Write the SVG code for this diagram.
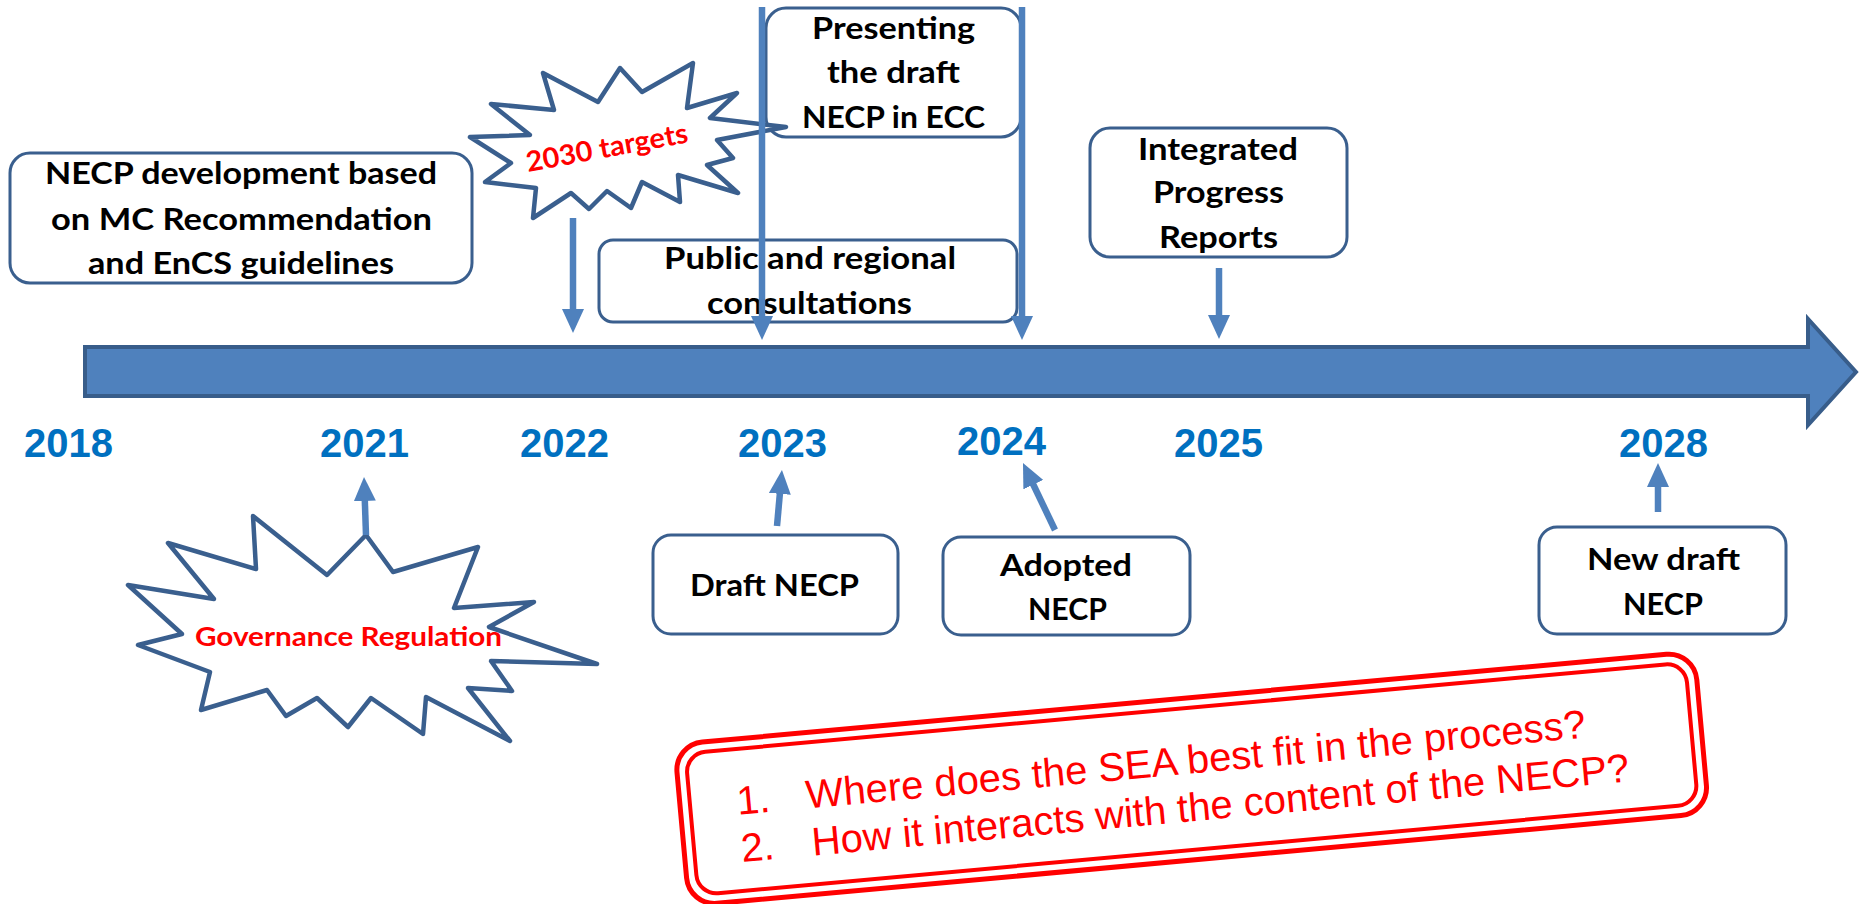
<svg xmlns="http://www.w3.org/2000/svg" width="1866" height="904" viewBox="0 0 1866 904">
<defs>
<style>
.box{fill:#fff;stroke:#3A5F8E;stroke-width:3}
.lbl{font-family:Lato,'Liberation Sans',sans-serif;font-weight:700;font-size:31px;fill:#000}
.redlbl{font-family:Lato,'Liberation Sans',sans-serif;font-weight:700;fill:#FF0000}
.yr{font-family:'Liberation Sans',Arial,sans-serif;font-weight:700;font-size:40px;fill:#0070C0}
.star{fill:#fff;stroke:#3A5F8E;stroke-width:4.5;stroke-linejoin:round}
.conn{stroke:#4F81BD;stroke-width:6.5;fill:none;marker-end:url(#ah)}
.q{font-family:'Liberation Sans',Arial,sans-serif;font-size:40px;fill:#FF0000}
.rb{fill:none;stroke:#FF0000}
</style>
<marker id="ah" markerUnits="userSpaceOnUse" viewBox="0 0 24 22" refX="4" refY="11" markerWidth="24" markerHeight="22" orient="auto">
<path d="M0,0 L24,11 L0,22 z" fill="#4F81BD"/>
</marker>
</defs>
<rect width="1866" height="904" fill="#fff"/>

<g id="timeline">
<path d="M85,347 L1808,347 L1808,319 L1856,372 L1808,425 L1808,396 L85,396 Z" fill="#4F81BD" stroke="#385D8A" stroke-width="4" stroke-linejoin="miter"/>
</g>

<g id="node-necp-dev">
<rect class="box" x="10" y="153" width="462" height="130" rx="20"/>
<text class="lbl" x="45" y="184" textLength="392" lengthAdjust="spacingAndGlyphs">NECP development based</text>
<text class="lbl" x="51" y="230" textLength="381" lengthAdjust="spacingAndGlyphs">on MC Recommendation</text>
<text class="lbl" x="88" y="274" textLength="306" lengthAdjust="spacingAndGlyphs">and EnCS guidelines</text>
</g>

<g id="node-presenting">
<rect class="box" x="766" y="8" width="255" height="129" rx="20"/>
<text class="lbl" x="812" y="39" textLength="163" lengthAdjust="spacingAndGlyphs">Presenting</text>
<text class="lbl" x="827" y="83" textLength="133" lengthAdjust="spacingAndGlyphs">the draft</text>
<text class="lbl" x="802" y="128" textLength="183" lengthAdjust="spacingAndGlyphs">NECP in ECC</text>
</g>

<g id="node-public">
<rect class="box" x="599" y="240" width="418" height="82" rx="14"/>
<text class="lbl" x="664" y="269" textLength="292" lengthAdjust="spacingAndGlyphs">Public and regional</text>
<text class="lbl" x="707" y="314" textLength="205" lengthAdjust="spacingAndGlyphs">consultations</text>
</g>

<g id="node-integrated">
<rect class="box" x="1090" y="128" width="257" height="129" rx="20"/>
<text class="lbl" x="1138" y="160" textLength="160" lengthAdjust="spacingAndGlyphs">Integrated</text>
<text class="lbl" x="1153" y="203" textLength="131" lengthAdjust="spacingAndGlyphs">Progress</text>
<text class="lbl" x="1159" y="248" textLength="119" lengthAdjust="spacingAndGlyphs">Reports</text>
</g>

<g id="node-draft">
<rect class="box" x="653" y="535" width="245" height="99" rx="18"/>
<text class="lbl" x="690" y="596" textLength="169" lengthAdjust="spacingAndGlyphs">Draft NECP</text>
</g>

<g id="node-adopted">
<rect class="box" x="943" y="537" width="247" height="98" rx="18"/>
<text class="lbl" x="1000" y="576" textLength="132" lengthAdjust="spacingAndGlyphs">Adopted</text>
<text class="lbl" x="1028" y="620" textLength="79" lengthAdjust="spacingAndGlyphs">NECP</text>
</g>

<g id="node-newdraft">
<rect class="box" x="1539" y="527" width="247" height="107" rx="18"/>
<text class="lbl" x="1587" y="570" textLength="153" lengthAdjust="spacingAndGlyphs">New draft</text>
<text class="lbl" x="1623" y="615" textLength="80" lengthAdjust="spacingAndGlyphs">NECP</text>
</g>

<g id="node-2030-targets">
<polygon class="star" points="543,73 598,102 620,68 642,92 693,63 687,108 737,93 710,118 786,127 717,140 733,158 707,165 738,193 678,175 680,202 642,182 631,208 607,191 589,209 571,193 533,218 536,188 485,182 511,163 470,137 530,135 491,104 554,110"/>
<text class="redlbl" font-size="28" x="528" y="172" textLength="164" lengthAdjust="spacingAndGlyphs" transform="rotate(-10.5 528 172)">2030 targets</text>
</g>

<g id="node-governance">
<polygon class="star" points="366,535 393,572 478,547 454,608 534,602 489,627 597,664 491,661 512,691 468,688 510,741 426,697 423,734 371,698 348,727 317,698 286,716 267,690 201,710 210,672 138,645 182,634 128,585 214,599 168,543 256,569 253,516 327,575"/>
<text class="redlbl" font-size="27" x="195" y="646" textLength="307" lengthAdjust="spacingAndGlyphs">Governance Regulation</text>
</g>

<g id="connectors">
<line class="conn" x1="762" y1="7" x2="762" y2="320"/>
<line class="conn" x1="1022" y1="7" x2="1022" y2="320"/>
<line class="conn" x1="573" y1="218" x2="573" y2="313"/>
<line class="conn" x1="1219" y1="268" x2="1219" y2="319"/>
<line class="conn" x1="366" y1="535" x2="364.7" y2="497"/>
<line class="conn" x1="777" y1="526" x2="780.2" y2="489.9"/>
<line class="conn" x1="1055" y1="530" x2="1031.6" y2="481"/>
<line class="conn" x1="1658" y1="512" x2="1658" y2="483"/>
</g>

<g id="years">
<text class="yr" x="24" y="457">2018</text>
<text class="yr" x="320" y="457">2021</text>
<text class="yr" x="520" y="457">2022</text>
<text class="yr" x="738" y="457">2023</text>
<text class="yr" x="957" y="455">2024</text>
<text class="yr" x="1174" y="457">2025</text>
<text class="yr" x="1619" y="457">2028</text>
</g>

<g id="node-questions" transform="rotate(-5.2 1191.7 778.8)">
<rect class="rb" x="679.7" y="697.8" width="1024" height="162" rx="28" stroke-width="5"/>
<rect class="rb" x="689.7" y="707.8" width="1004" height="142" rx="20" stroke-width="4"/>
<text class="q" x="736.5" y="773.5">1.</text>
<text class="q" x="806" y="773.5">Where does the SEA best fit in the process?</text>
<text class="q" x="736.5" y="821">2.</text>
<text class="q" x="807.7" y="821">How it interacts with the content of the NECP?</text>
</g>
</svg>
